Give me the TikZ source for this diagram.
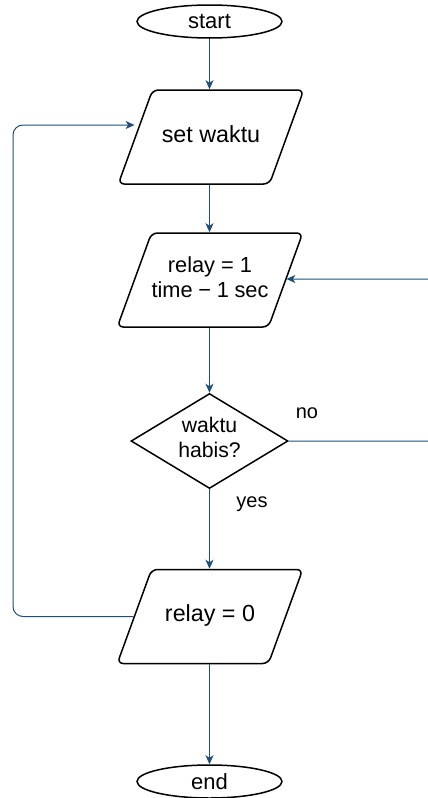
\documentclass[tikz,border=0pt]{standalone}
\usepackage{fontspec}
\setmainfont{Liberation Sans}
\usetikzlibrary{shapes.geometric,arrows.meta}
\definecolor{flowblue}{HTML}{1F4E79}
\newcommand{\iotext}[1]{\parbox[c][50pt][c]{117pt}{\centering\strut #1\strut}}
\tikzset{
	terminal/.style={draw, line width=1.5pt, ellipse, minimum width=145pt, minimum height=33pt, inner sep=0pt, font=\fontsize{22}{26}\selectfont},
	iobox/.style={draw, line width=1.5pt, trapezium, trapezium left angle=70, trapezium right angle=110, rounded corners=6pt, inner xsep=0pt, inner ysep=22pt, font=\fontsize{21.8}{25.7}\selectfont},
	bigtext/.style={font=\fontsize{23.3}{27}\selectfont},
	decision/.style={draw, line width=1.5pt, diamond, shape aspect=1.65, minimum width=157pt, minimum height=95pt, inner sep=0pt, align=center, font=\fontsize{21.2}{25}\selectfont, execute at begin node=\strut, execute at end node=\strut},
	flow/.style={draw=flowblue, line width=1pt, -{Stealth[length=9pt,width=8pt,inset=2.5pt]}},
	flowlabel/.style={font=\fontsize{20}{25}\selectfont}
}
\begin{document}
\begin{tikzpicture}[x=1pt,y=-1pt]
	\clip (0,0) rectangle (428,798);
	\node[terminal] (start) at (209.5,21.5) {start};
	\node[iobox, bigtext] (setwaktu) at (211,137) {\iotext{set waktu}};
	\node[iobox] (relayone) at (210,280) {\iotext{relay = 1\\time − 1 sec}};
	\node[decision] (waktuhabis) at (209.5,441) {waktu\\habis?};
	\node[iobox, bigtext] (relayzero) at (210,616.5) {\iotext{relay = 0}};
	\node[terminal] (end) at (209.5,781.5) {end};
	\coordinate (leftturn) at (13,125);
	\coordinate (rightturn) at (445,279);
	\draw[flow] (start) -- (start |- setwaktu.north);
	\draw[flow] (start |- setwaktu.south) -- (start |- relayone.north);
	\draw[flow] (start |- relayone.south) -- (waktuhabis);
	\draw[flow] (waktuhabis) -- (start |- relayzero.north);
	\draw[flow] (start |- relayzero.south) -- (end);
	\draw[flow, rounded corners=10pt] (relayzero.west) -| (leftturn) -- (leftturn -| setwaktu.west);
	\draw[flow, rounded corners=10pt] (waktuhabis.east) -| (rightturn) -- (rightturn -| relayone.east);
	\node[flowlabel] (nolabel) at (307,413) {no};
	\node[flowlabel] (yeslabel) at (252,504) {yes};
\end{tikzpicture}
\end{document}
